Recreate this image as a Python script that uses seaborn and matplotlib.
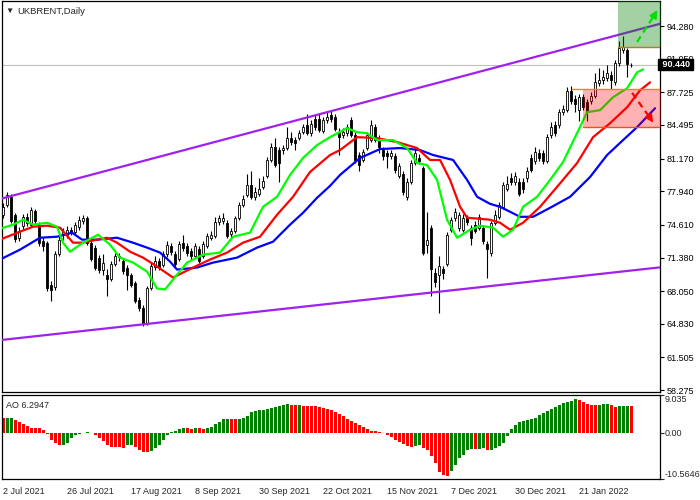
import numpy as np
import matplotlib
matplotlib.use("Agg")
import matplotlib.pyplot as plt
import seaborn as sns

# daily OHLC (bar index 0 = 2 Jul 2021)
opens = [75.6, 76.6, 77.4, 75.6, 73.3, 74.5, 75.4, 74.6, 76.0, 74.6,
         73.0, 72.8, 68.7, 68.5, 71.7, 73.6, 73.6, 74.1, 73.9, 74.4,
         75.0, 75.3, 72.8, 72.3, 71.3, 70.1, 69.7, 69.3, 70.7, 71.4,
         71.0, 70.3, 69.7, 68.9, 67.2, 66.4, 64.9, 68.4, 70.4, 71.0,
         70.6, 71.7, 72.5, 71.7, 71.2, 72.8, 72.5, 72.0, 71.5, 72.2,
         71.5, 72.5, 73.3, 73.5, 74.9, 75.0, 74.8, 73.7, 74.0, 75.3,
         76.6, 77.6, 78.6, 77.4, 77.7, 78.4, 79.4, 81.0, 82.3, 82.0,
         82.0, 82.2, 83.2, 83.0, 83.2, 83.8, 84.5, 83.7, 85.1, 85.1,
         83.9, 85.0, 85.5, 85.3, 83.8, 83.5, 83.7, 85.0, 83.5, 81.5,
         81.0, 82.2, 83.0, 84.3, 83.2, 82.0, 81.7, 81.4, 81.4, 79.4,
         79.6, 77.4, 78.9, 80.7, 81.2, 80.2, 72.6, 74.3, 69.9, 69.7,
         70.2, 70.7, 74.1, 75.3, 74.3, 74.1, 75.3, 74.3, 74.6, 74.3,
         74.3, 72.7, 71.8, 74.8, 75.4, 76.4, 78.2, 79.2, 78.9, 78.9,
         78.9, 79.2, 81.2, 80.9, 81.7, 81.7, 80.9, 83.5, 84.5, 84.5,
         85.8, 86.0, 87.9, 87.1, 86.0, 87.3, 86.8, 86.9, 87.4, 88.6,
         88.9, 89.1, 89.4, 88.7, 90.6, 91.9, 91.9, 90.4]
highs = [76.8, 77.9, 77.7, 75.8, 74.4, 75.7, 75.8, 76.4, 76.2, 74.9,
         73.4, 73.0, 69.1, 72.0, 73.9, 74.3, 74.5, 74.4, 74.9, 75.5,
         75.6, 75.5, 73.2, 72.6, 71.6, 71.7, 70.2, 71.0, 71.8, 71.8,
         71.3, 70.6, 69.9, 69.1, 67.5, 66.7, 68.6, 70.8, 71.5, 71.3,
         72.0, 73.0, 72.8, 72.0, 73.0, 73.6, 72.8, 72.3, 72.8, 72.5,
         73.0, 73.8, 74.0, 75.4, 75.6, 75.8, 75.1, 74.3, 75.5, 76.9,
         77.6, 79.6, 79.9, 78.4, 79.2, 79.4, 81.3, 82.7, 83.2, 82.3,
         82.5, 84.3, 83.8, 83.3, 84.0, 84.6, 85.6, 85.0, 85.5, 85.6,
         85.3, 85.9, 86.0, 85.6, 84.2, 84.2, 84.6, 85.3, 83.8, 81.8,
         82.1, 83.8, 85.0, 84.6, 83.5, 82.3, 82.0, 82.0, 81.7, 80.7,
         79.9, 79.2, 81.0, 82.3, 81.6, 80.4, 75.9, 74.6, 70.3, 71.5,
         70.5, 73.9, 75.4, 76.3, 75.9, 75.7, 75.6, 74.6, 75.0, 75.7,
         74.6, 73.0, 75.0, 76.1, 76.9, 78.9, 79.4, 79.7, 79.8, 79.2,
         79.2, 80.3, 81.6, 82.3, 82.1, 82.0, 83.6, 84.8, 84.9, 86.1,
         86.5, 88.2, 88.3, 87.5, 87.6, 87.6, 87.1, 87.8, 89.6, 90.1,
         89.9, 90.4, 89.8, 90.9, 92.8, 93.3, 92.1, 90.6]
lows = [75.3, 76.4, 74.8, 72.9, 73.0, 74.2, 74.5, 74.4, 74.7, 72.5,
        72.0, 68.1, 67.1, 68.2, 71.5, 73.1, 73.3, 73.6, 73.7, 74.1,
        74.7, 72.6, 71.0, 70.1, 69.9, 69.7, 67.6, 69.1, 70.5, 71.0,
        69.8, 68.2, 68.5, 66.9, 66.1, 64.6, 64.7, 68.2, 70.1, 70.1,
        70.4, 71.4, 71.6, 70.4, 71.0, 72.0, 71.5, 71.1, 71.3, 70.8,
        71.3, 72.3, 73.1, 73.3, 74.6, 74.7, 73.3, 73.4, 73.8, 75.1,
        76.4, 77.4, 77.2, 77.1, 77.5, 78.2, 79.2, 80.8, 80.3, 78.9,
        81.6, 82.0, 82.5, 82.0, 83.0, 83.6, 83.5, 83.4, 84.0, 83.8,
        83.7, 84.7, 84.8, 83.9, 81.5, 83.2, 83.4, 83.3, 80.7, 79.9,
        80.8, 82.0, 82.8, 82.8, 81.7, 81.0, 80.2, 81.1, 79.7, 79.2,
        77.6, 77.1, 78.7, 80.5, 80.6, 71.6, 71.8, 67.6, 68.5, 65.9,
        69.3, 70.5, 73.9, 75.0, 74.0, 73.9, 74.6, 72.6, 73.8, 74.1,
        72.7, 69.4, 71.5, 74.6, 75.2, 76.2, 78.0, 78.6, 78.6, 77.5,
        77.8, 78.9, 79.8, 80.6, 80.9, 80.6, 80.7, 83.2, 83.4, 84.2,
        85.5, 85.8, 86.6, 85.8, 84.9, 86.0, 84.9, 86.6, 87.2, 88.3,
        88.5, 88.8, 88.1, 88.4, 90.3, 91.6, 89.2, 90.2]
closes = [76.4, 77.6, 75.0, 73.2, 74.0, 75.4, 74.8, 76.1, 75.0, 72.8,
          72.5, 68.4, 68.2, 71.7, 73.1, 73.9, 74.1, 73.9, 74.6, 75.1,
          75.3, 72.8, 71.2, 70.3, 70.1, 70.8, 69.3, 70.7, 71.5, 71.5,
          70.0, 69.7, 68.7, 67.1, 66.4, 64.9, 68.4, 70.5, 71.0, 70.4,
          71.7, 72.6, 71.9, 70.7, 72.7, 72.3, 71.8, 71.5, 72.5, 71.0,
          72.7, 73.5, 73.6, 74.9, 75.3, 75.3, 73.5, 74.0, 75.3, 76.6,
          77.2, 78.6, 77.4, 77.9, 78.2, 79.0, 81.0, 82.3, 80.5, 80.7,
          82.2, 83.2, 82.8, 82.7, 83.7, 84.3, 83.7, 84.6, 84.3, 84.0,
          85.0, 85.3, 85.1, 84.1, 83.3, 83.8, 84.3, 83.5, 81.0, 80.5,
          81.8, 83.5, 84.5, 83.0, 82.3, 81.4, 81.4, 81.7, 80.0, 80.4,
          77.9, 78.9, 80.7, 81.7, 80.9, 71.8, 73.1, 70.2, 69.0, 70.5,
          69.9, 73.6, 75.1, 75.9, 75.6, 75.3, 74.9, 73.3, 74.0, 75.4,
          73.0, 72.2, 74.8, 75.6, 76.6, 78.6, 78.7, 78.9, 79.4, 77.7,
          78.2, 79.9, 80.0, 81.8, 81.2, 80.9, 83.3, 84.3, 83.7, 85.8,
          86.1, 87.9, 86.9, 86.6, 87.3, 86.3, 85.8, 87.4, 88.7, 88.9,
          89.2, 89.6, 88.9, 90.6, 92.1, 92.2, 90.5, 90.44]

# Awesome Oscillator histogram, one value per bar
ao = [3.52, 3.54, 3.55, 3.20, 2.58, 2.10, 1.64, 1.33, 1.25, 1.20,
      0.70, -0.08, -1.56, -2.34, -2.73, -2.70, -2.27, -1.10, -0.40, -0.16,
      0.16, 0.39, 0.16, -0.40, -1.00, -1.80, -2.73, -3.13, -3.18, -3.22,
      -3.30, -2.73, -2.60, -3.20, -3.98, -4.30, -4.35, -4.10, -3.50, -2.73,
      -1.64, -0.40, 0.23, 0.47, 0.94, 1.17, 1.15, 0.94, 1.17, 1.15,
      0.94, 1.17, 1.40, 2.10, 2.58, 3.28, 3.30, 3.28, 3.27, 3.29,
      3.52, 4.00, 4.92, 5.16, 5.40, 5.41, 5.63, 5.86, 6.10, 6.33,
      6.56, 6.80, 6.56, 6.55, 6.56, 6.50, 6.48, 6.33, 6.30, 6.10,
      5.86, 5.63, 5.40, 4.92, 4.45, 4.00, 3.28, 2.81, 2.34, 1.88,
      1.40, 0.94, 0.47, 0.46, 0.23, 0.15, -0.40, -0.86, -1.56, -2.10,
      -2.58, -3.05, -3.20, -2.97, -2.73, -3.36, -3.98, -5.30, -7.00, -9.06,
      -9.77, -9.85, -8.67, -7.42, -5.78, -4.92, -3.90, -3.60, -3.75, -3.70,
      -3.50, -3.98, -3.90, -3.50, -2.97, -2.27, -0.60, 0.94, 1.90, 2.60,
      2.90, 3.05, 3.30, 3.70, 4.20, 4.69, 5.23, 5.69, 6.08, 6.69,
      7.00, 7.38, 7.62, 8.00, 7.75, 7.35, 6.85, 6.72, 6.65, 6.70,
      6.75, 6.82, 6.60, 6.20, 6.32, 6.36, 6.40, 6.2947]

# Alligator lines (jaw blue, teeth red, lips green), sampled along the curves
jaw_x = [-0.75, 4.25, 9.25, 13.5, 17.25, 19.75, 23.5, 28.5, 32.5, 36, 39.25,
         41.75, 43.5, 48.5, 52.5, 58.5, 63.5, 67.5, 71.75, 75, 78.5, 81.75,
         84.25, 89.25, 94.25, 99.25, 104.25, 107.5, 112.5, 116, 118.5, 121.75,
         124.25, 129.25, 132.5, 136.75, 141.75, 146.75, 151, 155, 158.5, 163]
jaw_y = [71.18, 72.16, 73.34, 73.44, 73.84, 73.15, 73.15, 73.34, 72.85, 72.36, 71.87,
         70.98, 70.19, 70.39, 70.88, 71.37, 72.36, 72.95, 74.63, 75.81, 77.29, 78.47,
         79.55, 81.23, 82.11, 82.21, 82.01, 81.52, 81.03, 79.06, 77.39, 76.69,
         76.40, 75.41, 75.41, 76.30, 77.39, 79.35, 81.52, 83.00, 84.28, 86.15]
teeth_x = [-0.75, 4.25, 7.5, 11, 14.25, 17.5, 20, 23.5, 26, 28.5, 31.75, 35,
           38.5, 42.5, 47.5, 51.75, 56, 60, 64.25, 68.5, 72.5, 76.75, 81.75,
           84.25, 88.5, 93.5, 98.5, 103.5, 106.75, 109.25, 111.75, 114.25, 116,
           121.75, 124.25, 126.75, 130, 134.25, 138.5, 143.5, 147.5, 151.75,
           156, 159.25, 161.75]
teeth_y = [73.15, 73.94, 74.43, 74.53, 74.33, 72.85, 72.85, 73.15, 73.34, 72.85, 71.96, 71.37,
           70.49, 69.40, 70.39, 71.18, 71.87, 72.85, 73.44, 75.61, 77.39, 79.85, 81.52,
           82.01, 83.29, 83.19, 82.80, 82.21, 81.03, 81.03, 79.06, 76.40, 75.32,
           75.12, 74.82, 74.13, 74.82, 76.40, 78.37, 80.73, 83.29, 84.67,
           86.25, 87.93, 88.71]
lips_x = [-0.75, 2.5, 5, 7.5, 11, 13.5, 15, 16.75, 20, 23.75, 26.75, 29.25,
          32.5, 36, 38.5, 40.5, 42.5, 46, 50, 54.25, 57.5, 61.75, 65, 68.5,
          71.75, 75, 78.5, 81.75, 86, 88.5, 91, 93.5, 97.5, 101, 103.5, 106,
          108.5, 111, 113.5, 116.75, 119.25, 122.5, 125, 127.5, 130, 133.5,
          136.75, 140, 143.5, 146, 149.25, 152.5, 156, 158.5, 160]
lips_y = [74.23, 74.63, 75.12, 74.63, 74.82, 74.43, 72.85, 71.96, 72.85, 73.64, 72.65, 71.37,
          70.88, 69.99, 68.32, 68.22, 69.20, 70.88, 71.67, 71.87, 73.44, 73.84, 76.40, 77.39,
          79.55, 81.23, 82.50, 83.29, 84.18, 83.78, 83.68, 82.99, 82.99, 82.21, 80.73, 80.53,
          79.06, 75.12, 73.34, 74.13, 74.53, 74.33, 73.44, 74.13, 76.40, 77.39,
          79.06, 80.83, 83.69, 85.76, 85.96, 87.24, 88.12, 89.70, 89.99]

# channel lines (two points each)
upper_x = [-0.75, 164.25]
upper_y = [77.17, 94.50]
lower_x = [-0.75, 164.25]
lower_y = [63.21, 70.41]

last_price = 90.44
price_ticks = [94.280, 91.050, 87.725, 84.495, 81.170, 77.940, 74.610,
               71.380, 68.050, 64.830, 61.505, 58.275]
price_labels = ["94.280", "91.050", "87.725", "84.495", "81.170", "77.940",
                "74.610", "71.380", "68.050", "64.830", "61.505", "58.275"]
date_pos = [0, 16, 32, 48, 64, 80, 96, 112, 128, 144]
date_labels = ["2 Jul 2021", "26 Jul 2021", "17 Aug 2021", "8 Sep 2021",
               "30 Sep 2021", "22 Oct 2021", "15 Nov 2021", "7 Dec 2021",
               "30 Dec 2021", "21 Jan 2022"]

sns.set_style("white")
plt.rcParams["font.family"] = ["Liberation Sans", "DejaVu Sans"]

fig = plt.figure(figsize=(7, 5), dpi=100)
ax = fig.add_axes([2 / 700, 1 - 392 / 500, 657.5 / 700, 391 / 500])
ax2 = fig.add_axes([2 / 700, 1 - 478.7 / 500, 657.5 / 700, 84 / 500])

idx = np.arange(len(closes))
o = np.array(opens)
c = np.array(closes)
bull = c >= o
body_lo = np.minimum(o, c)
body_h = np.maximum(np.abs(c - o), 0.04)

# price line
ax.axhline(last_price, color="#c0c0c0", lw=0.8, zorder=1)

# candles
ax.vlines(idx, lows, highs, color="black", lw=0.8, zorder=3)
ax.bar(idx, body_h, bottom=body_lo, width=0.62,
       color=np.where(bull, "white", "black"), edgecolor="black",
       linewidth=0.6, zorder=4)

# alligator + channel
line_kw = dict(ax=ax, lw=1.6, sort=False, estimator=None, zorder=5)
sns.lineplot(x=jaw_x, y=jaw_y, color="#0000ff", **line_kw)
sns.lineplot(x=teeth_x, y=teeth_y, color="#ff0000", **line_kw)
sns.lineplot(x=lips_x, y=lips_y, color="#00ff00", **line_kw)
sns.lineplot(x=upper_x, y=upper_y, color="#a020f0", **line_kw)
sns.lineplot(x=lower_x, y=lower_y, color="#a020f0", **line_kw)

# target zones
ax.fill_between([153.75, 166], 92.19, 97.5, color="#008000", alpha=0.36, lw=0, zorder=6)
ax.fill_between([144.9, 166], 84.3, 88.1, color="#ff0000", alpha=0.3, lw=0, zorder=6)
ax.plot([153.75, 166], [92.19, 92.19], color="#c87a00", lw=1.0, zorder=7)
ax.plot([142.2, 166], [88.1, 88.1], color="#ff8000", lw=1.0, zorder=7)
ax.plot([144.9, 166], [84.3, 84.3], color="#ff5000", lw=1.0, zorder=7)

# dashed arrows
ax.plot([158.5, 163.2], [92.7, 95.6], color="#00e000", lw=1.6, ls=(0, (3, 2)), zorder=8)
ax.annotate("", xy=(163.9, 96.1), xytext=(162.6, 95.2),
            arrowprops=dict(arrowstyle="-|>", color="#00e000", lw=1.2, mutation_scale=12), zorder=8)
ax.plot([157.25, 161.9], [87.67, 85.1], color="#ff0000", lw=1.6, ls=(0, (3, 2)), zorder=8)
ax.annotate("", xy=(162.9, 84.5), xytext=(161.3, 85.45),
            arrowprops=dict(arrowstyle="-|>", color="#ff0000", lw=1.2, mutation_scale=12), zorder=8)

ax.set_xlim(-0.25, 164.1)
ax.set_ylim(58.08, 96.755)
ax.yaxis.tick_right()
ax.set_yticks(price_ticks)
ax.set_yticklabels(price_labels)
ax.set_xticks([])
ax.tick_params(axis="y", direction="out", length=3, width=0.8, labelsize=6.5, pad=2, colors="black")
ax.set_xlabel("")
ax.set_ylabel("")

ax.text(1.0, last_price, " 90.440 ", transform=ax.get_yaxis_transform(),
        ha="left", va="center", color="white", fontsize=6.5, fontweight="bold",
        bbox=dict(boxstyle="square,pad=0.12", fc="black", ec="black"),
        clip_on=False, zorder=20)

fig.text(5 / 700, 1 - 11 / 500, "\u25bc", fontsize=6, va="center", ha="left")
fig.text(17 / 700, 1 - 11 / 500, "UKBRENT,Daily", fontsize=6.8, va="center", ha="left")

# AO panel: green when the bar is higher than the previous one
ao_arr = np.array(ao)
rising = np.r_[False, ao_arr[1:] > ao_arr[:-1]]
ax2.bar(idx, ao_arr, width=0.75, color=np.where(rising, "#008000", "#ff0000"), linewidth=0)
ax2.set_xlim(-0.25, 164.1)
ax2.set_ylim(-10.5646, 9.035)
ax2.yaxis.tick_right()
ax2.set_yticks([9.035, 0.0, -10.5646])
ax2.set_yticklabels([])
ax2.tick_params(axis="y", direction="out", length=3, width=0.8)
yt = ax2.get_yaxis_transform()
ax2.text(1.008, 9.035, "9.035", transform=yt, va="top", ha="left", fontsize=6.5)
ax2.text(1.008, 0.0, "0.00", transform=yt, va="center", ha="left", fontsize=6.5)
ax2.text(1.008, -10.5646, "-10.5646", transform=yt, va="bottom", ha="left", fontsize=6.5)
ax2.text(0.006, 0.93, "AO 6.2947", transform=ax2.transAxes, va="top", ha="left", fontsize=6.5)

ax2.set_xticks(date_pos)
ax2.set_xticklabels(date_labels, ha="left")
ax2.tick_params(axis="x", direction="out", length=3, width=0.8, labelsize=6.5, pad=3)

for a in (ax, ax2):
    for s in a.spines.values():
        s.set_color("black")
        s.set_linewidth(0.9)

fig.savefig("out.png", dpi=100)
